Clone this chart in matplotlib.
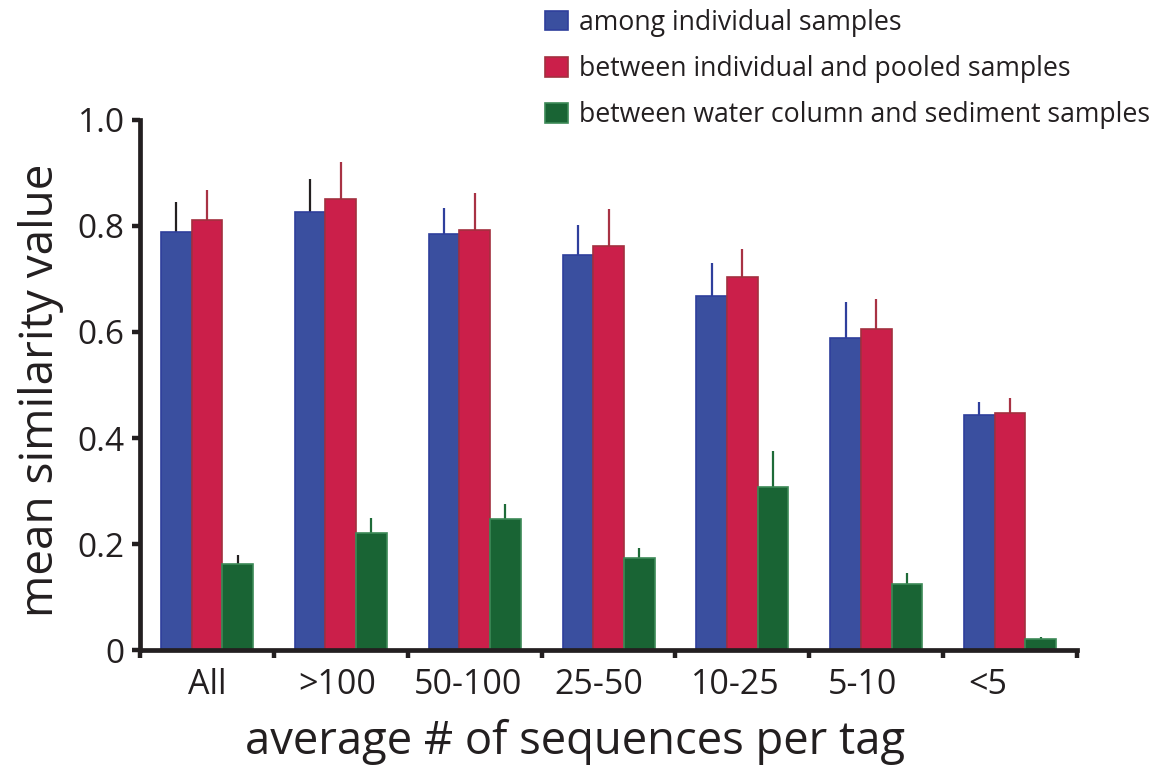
import numpy as np
import matplotlib
matplotlib.use("Agg")
import matplotlib.pyplot as plt

plt.rcParams["font.family"] = ["Open Sans", "DejaVu Sans"]

# values
groups = ["All", ">100", "50-100", "25-50", "10-25", "5-10", "<5"]
series_names = [
    "among individual samples",
    "between individual and pooled samples",
    "between water column and sediment samples",
]
among = [0.788, 0.826, 0.784, 0.745, 0.667, 0.588, 0.443]
among_err = [0.058, 0.062, 0.049, 0.057, 0.064, 0.069, 0.024]
pooled = [0.811, 0.850, 0.792, 0.763, 0.704, 0.605, 0.447]
pooled_err = [0.057, 0.070, 0.070, 0.069, 0.053, 0.057, 0.029]
water_sed = [0.162, 0.220, 0.248, 0.173, 0.308, 0.124, 0.021]
water_sed_err = [0.017, 0.030, 0.027, 0.019, 0.067, 0.021, 0.003]

ink = "#231f20"
fills = ["#3a4f9f", "#cb1f4a", "#196434"]
edges = ["#2f3f9c", "#a3303f", "#3d8a57"]
err_colors = [
    [ink, ink, "#2f3f9c", "#2f3f9c", "#2f3f9c", "#2f3f9c", "#2f3f9c"],
    ["#a83244"] * 7,
    [ink] + ["#1e6b38"] * 6,
]
# small horizontal nudges of the category labels (data units)
label_nudge = [0, -0.03, -0.05, -0.07, -0.05, -0.1, -0.17]

fig = plt.figure(figsize=(11.64, 7.77), dpi=100)
ax = fig.add_axes([0.1203, 0.1634, 0.8050, 0.6822])

x = np.arange(len(groups))
width = 0.229
offsets = [-width, 0, width]
all_vals = [among, pooled, water_sed]
all_errs = [among_err, pooled_err, water_sed_err]

handles = []
for i in range(3):
    vals = np.array(all_vals[i])
    errs = np.array(all_errs[i])
    ax.vlines(x + offsets[i], vals, vals + errs, colors=err_colors[i],
              linewidth=1.6, zorder=1)
    bars = ax.bar(x + offsets[i], vals, width, color=fills[i],
                  edgecolor=edges[i], linewidth=1.2, zorder=2,
                  label=series_names[i])
    handles.append(bars)

ax.set_xlim(-0.5, len(groups) - 0.5)
ax.set_ylim(0, 1.0)

for side in ["top", "right"]:
    ax.spines[side].set_visible(False)
for side in ["left", "bottom"]:
    ax.spines[side].set_linewidth(3.4)
    ax.spines[side].set_color(ink)
    ax.spines[side].set_zorder(3)

ax.set_yticks([0, 0.2, 0.4, 0.6, 0.8, 1.0])
ax.set_yticklabels(["0", "0.2", "0.4", "0.6", "0.8", "1.0"])
ax.tick_params(axis="y", direction="out", length=6, width=3.2, color=ink,
               labelsize=24, labelcolor=ink, pad=5)

ax.set_xticks(np.arange(len(groups) + 1) - 0.5)
ax.set_xticklabels([])
ax.tick_params(axis="x", which="major", direction="out", length=6, width=3.2,
               color=ink)
ax.set_xticks(x + np.array(label_nudge), minor=True)
ax.set_xticklabels(groups, minor=True)
ax.tick_params(axis="x", which="minor", length=0, labelsize=24.5,
               labelcolor=ink, pad=13)

fig.text(41 / 1164, 0.498, "mean similarity value", rotation=90,
         ha="center", va="center", fontsize=33, color=ink)
fig.text(0.494, 0.029, "average # of sequences per tag", ha="center",
         va="baseline", fontsize=32.7, color=ink)

fig.legend(handles=handles, loc="upper left",
           bbox_to_anchor=(545 / 1164, 1 - 9 / 777), frameon=False,
           fontsize=19.2, handlelength=0.86, handleheight=0.75,
           handletextpad=0.41, labelspacing=0.68, borderpad=0,
           borderaxespad=0, labelcolor=ink)

fig.savefig("out.png", dpi=100)
